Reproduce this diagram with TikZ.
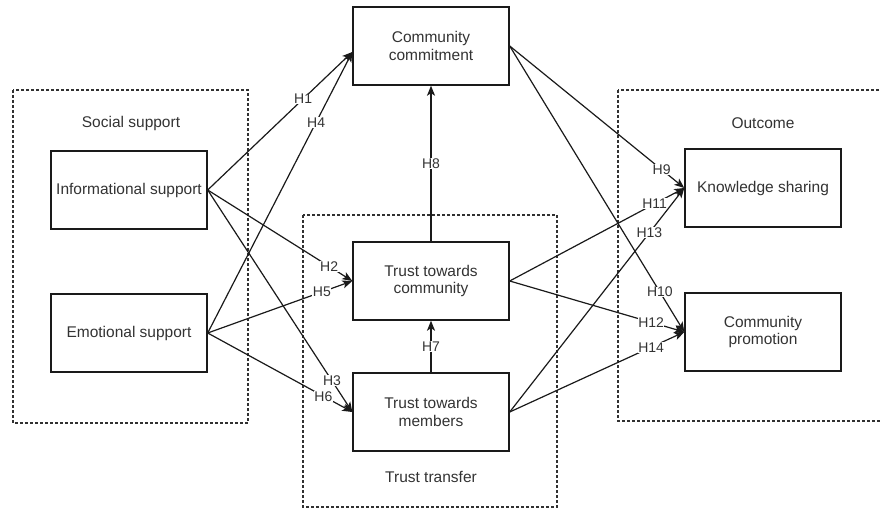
\documentclass[tikz,border=0pt]{standalone}
\usepackage{fontspec}
\setmainfont{Liberation Sans}
\usetikzlibrary{arrows.meta}
\definecolor{txt}{HTML}{333333}
\definecolor{ln}{HTML}{1A1A1A}
\begin{document}
\begin{tikzpicture}[x=1pt,y=-1pt,
  every node/.style={font=\fontsize{15.5}{17.5}\selectfont, text=txt},
  box/.style={draw=ln, line width=1.4pt, minimum width=156pt, minimum height=78pt, align=center, inner sep=2pt},
  group/.style={draw=ln!90, line width=1.3pt, dash pattern=on 3pt off 2pt},
  conn/.style={draw=ln, line width=1.2pt, -{Stealth[length=10pt,width=8pt,inset=2.5pt]}},
  hl/.style={fill=white, inner sep=0.5pt, font=\fontsize{14}{15}\selectfont}]
\useasboundingbox (0,0) rectangle (881,508);
\clip (0,0) rectangle (881,508);
\fill[white] (0,0) rectangle (881,508);
% groups
\draw[group] (13,90) rectangle (248,423);
\draw[group] (303,215) rectangle (557,507);
\draw[group] (618,90) rectangle (900,421);
\node (lss) at (131,123) {Social support};
\node (ltt) at (431,477) {Trust transfer};
\node (lout) at (763,123) {Outcome};
% boxes
\node[box] (info) at (129,190) {Informational support};
\node[box] (emo) at (129,333) {Emotional support};
\node[box] (cc) at (431,46) {Community\\commitment};
\node[box] (ttc) at (431,281) {Trust towards\\community};
\node[box] (ttm) at (431,412) {Trust towards\\members};
\node[box] (ks) at (763,188) {Knowledge sharing};
\node[box] (cp) at (763,332) {Community\\promotion};
\coordinate (ccin) at ([yshift=-6pt]cc.west);
% connectors
\draw[conn] (info.east) -- node[hl,pos=0.66] {H1} (ccin);
\draw[conn] (emo.east) -- node[hl,pos=0.75] {H4} (ccin);
\draw[conn] (info.east) -- node[hl,pos=0.84] {H2} (ttc.west);
\draw[conn] (emo.east) -- node[hl,pos=0.79] {H5} (ttc.west);
\draw[conn] (info.east) -- node[hl,pos=0.86] {H3} (ttm.west);
\draw[conn] (emo.east) -- node[hl,pos=0.80] {H6} (ttm.west);
\draw[conn] (ttc.north) -- node[hl,pos=0.5] {H8} (cc.south);
\draw[conn] (ttm.north) -- node[hl,pos=0.5] {H7} (ttc.south);
\draw[conn] (cc.east) -- node[hl,pos=0.87] {H9} (ks.west);
\draw[conn] (cc.east) -- node[hl,pos=0.86] {H10} (cp.west);
\draw[conn] (ttc.east) -- node[hl,pos=0.83] {H11} (ks.west);
\draw[conn] (ttc.east) -- node[hl,pos=0.81] {H12} (cp.west);
\draw[conn] (ttm.east) -- node[hl,pos=0.80] {H13} (ks.west);
\draw[conn] (ttm.east) -- node[hl,pos=0.81] {H14} (cp.west);
\end{tikzpicture}
\end{document}
